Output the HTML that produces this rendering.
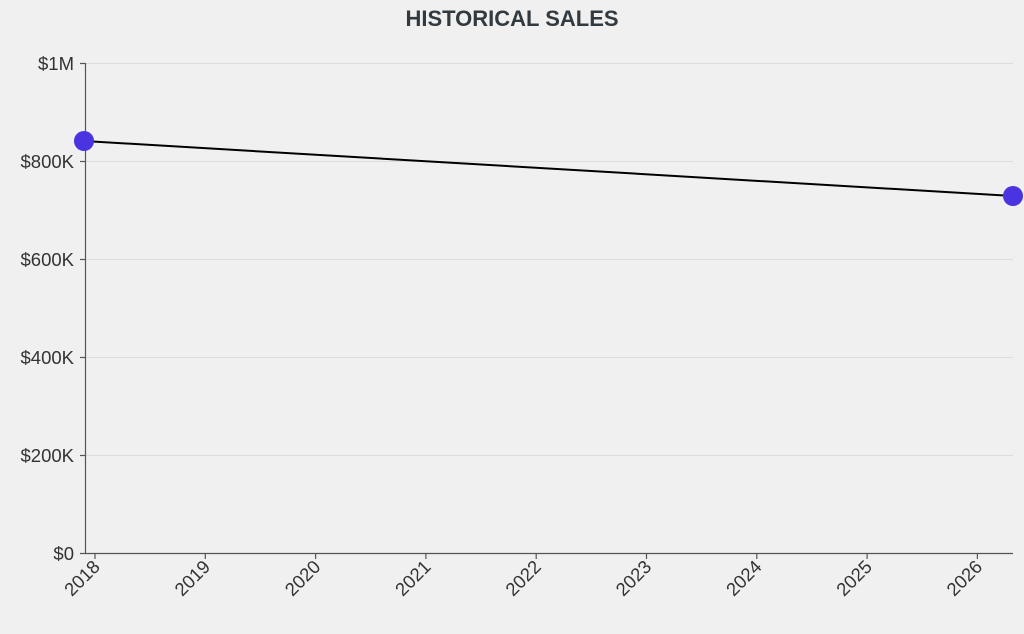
<!DOCTYPE html>
<html><head><style>
body{margin:0;background:#f0f0f0;}
svg{display:block;font-family:"Liberation Sans",sans-serif;}
</style></head><body>
<svg width="1024" height="634" viewBox="0 0 1024 634">
<rect width="1024" height="634" fill="#f0f0f0"/>
<text x="512" y="26" text-anchor="middle" font-size="22" font-weight="bold" fill="#333a3f">HISTORICAL SALES</text>
<g stroke="#dcdcdc" stroke-width="1">
<line x1="86" x2="1013" y1="63.5" y2="63.5"/>
<line x1="86" x2="1013" y1="161.5" y2="161.5"/>
<line x1="86" x2="1013" y1="259.5" y2="259.5"/>
<line x1="86" x2="1013" y1="357.5" y2="357.5"/>
<line x1="86" x2="1013" y1="455.5" y2="455.5"/>
</g>
<g stroke="#555" stroke-width="1.2">
<line x1="85.5" x2="85.5" y1="63" y2="553"/>
<line x1="85" x2="1013" y1="553.5" y2="553.5"/>
<line x1="80" x2="86" y1="63.5" y2="63.5"/>
<line x1="80" x2="86" y1="161.5" y2="161.5"/>
<line x1="80" x2="86" y1="259.5" y2="259.5"/>
<line x1="80" x2="86" y1="357.5" y2="357.5"/>
<line x1="80" x2="86" y1="455.5" y2="455.5"/>
<line x1="80" x2="86" y1="553.5" y2="553.5"/>
</g>
<g font-size="18.5" fill="#333" text-anchor="end">
<text x="74" y="70">$1M</text>
<text x="74" y="168">$800K</text>
<text x="74" y="266">$600K</text>
<text x="74" y="364">$400K</text>
<text x="74" y="462">$200K</text>
<text x="74" y="560">$0</text>
</g>
<g stroke="#555" stroke-width="1.2">
<line x1="95" x2="95" y1="553" y2="559"/>
<line x1="205.3" x2="205.3" y1="553" y2="559"/>
<line x1="315.6" x2="315.6" y1="553" y2="559"/>
<line x1="425.9" x2="425.9" y1="553" y2="559"/>
<line x1="536.2" x2="536.2" y1="553" y2="559"/>
<line x1="646.5" x2="646.5" y1="553" y2="559"/>
<line x1="756.8" x2="756.8" y1="553" y2="559"/>
<line x1="867.1" x2="867.1" y1="553" y2="559"/>
<line x1="977.4" x2="977.4" y1="553" y2="559"/>
</g>
<g font-size="18.5" fill="#333" text-anchor="end">
<text transform="translate(101,568) rotate(-45)">2018</text>
<text transform="translate(211.3,568) rotate(-45)">2019</text>
<text transform="translate(321.6,568) rotate(-45)">2020</text>
<text transform="translate(431.9,568) rotate(-45)">2021</text>
<text transform="translate(542.2,568) rotate(-45)">2022</text>
<text transform="translate(652.5,568) rotate(-45)">2023</text>
<text transform="translate(762.8,568) rotate(-45)">2024</text>
<text transform="translate(873.1,568) rotate(-45)">2025</text>
<text transform="translate(983.4,568) rotate(-45)">2026</text>
</g>
<line x1="84" y1="141" x2="1013" y2="196" stroke="#000" stroke-width="2"/>
<circle cx="84" cy="141" r="10" fill="#4a33e0"/>
<circle cx="1013" cy="196" r="10" fill="#4a33e0"/>
</svg>
</body></html>
